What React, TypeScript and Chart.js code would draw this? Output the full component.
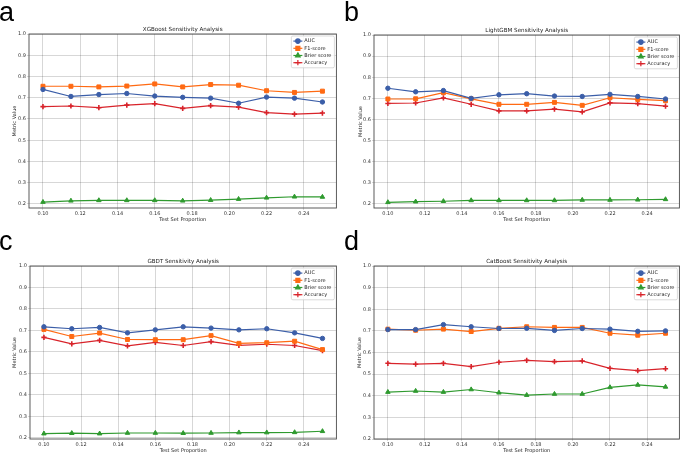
import React, { useEffect, useRef } from "react";
import { Chart, registerables } from "chart.js";
import { drawPoint } from "chart.js/helpers";
Chart.register(...registerables);

// ---------- data ----------
const testSizes = [0.1, 0.115, 0.13, 0.145, 0.16, 0.175, 0.19, 0.205, 0.22, 0.235, 0.25];
const xTickValues = [0.1, 0.12, 0.14, 0.16, 0.18, 0.2, 0.22, 0.24];
const yTickValues = [0.2, 0.3, 0.4, 0.5, 0.6, 0.7, 0.8, 0.9, 1.0];
const seriesNames = ["AUC", "F1-score", "Brier score", "Accuracy"];
const panelLetters = ["a", "b", "c", "d"];
const panelTitles = [
  "XGBoost Sensitivity Analysis",
  "LightGBM Sensitivity Analysis",
  "GBDT Sensitivity Analysis",
  "CatBoost Sensitivity Analysis",
];
const xAxisTitle = "Test Set Proportion";
const yAxisTitle = "Metric Value";

const xgbAuc = [0.739, 0.706, 0.715, 0.72, 0.708, 0.702, 0.698, 0.674, 0.703, 0.698, 0.68];
const xgbF1 = [0.754, 0.754, 0.751, 0.755, 0.765, 0.751, 0.762, 0.759, 0.733, 0.725, 0.731];
const xgbBrier = [0.209, 0.215, 0.217, 0.217, 0.217, 0.215, 0.218, 0.223, 0.229, 0.234, 0.233];
const xgbAcc = [0.658, 0.661, 0.653, 0.665, 0.672, 0.65, 0.663, 0.656, 0.63, 0.623, 0.628];

const lgbAuc = [0.748, 0.731, 0.737, 0.7, 0.717, 0.722, 0.711, 0.709, 0.719, 0.709, 0.697];
const lgbF1 = [0.697, 0.698, 0.727, 0.698, 0.672, 0.672, 0.681, 0.667, 0.703, 0.695, 0.689];
const lgbBrier = [0.208, 0.211, 0.213, 0.217, 0.217, 0.217, 0.217, 0.219, 0.219, 0.22, 0.222];
const lgbAcc = [0.676, 0.678, 0.702, 0.672, 0.641, 0.641, 0.649, 0.636, 0.679, 0.675, 0.663];

const gbdtAuc = [0.717, 0.708, 0.714, 0.689, 0.703, 0.717, 0.711, 0.703, 0.708, 0.689, 0.663];
const gbdtF1 = [0.705, 0.672, 0.688, 0.658, 0.657, 0.657, 0.676, 0.64, 0.643, 0.65, 0.611];
const gbdtBrier = [0.22, 0.222, 0.22, 0.223, 0.223, 0.222, 0.223, 0.225, 0.225, 0.226, 0.231];
const gbdtAcc = [0.668, 0.638, 0.654, 0.628, 0.645, 0.63, 0.648, 0.631, 0.636, 0.63, 0.606];

const catAuc = [0.706, 0.706, 0.729, 0.719, 0.711, 0.712, 0.702, 0.711, 0.708, 0.698, 0.7];
const catF1 = [0.708, 0.703, 0.708, 0.697, 0.712, 0.719, 0.716, 0.716, 0.689, 0.68, 0.689];
const catBrier = [0.417, 0.422, 0.417, 0.429, 0.414, 0.403, 0.408, 0.408, 0.439, 0.45, 0.441];
const catAcc = [0.55, 0.546, 0.55, 0.535, 0.555, 0.564, 0.558, 0.561, 0.527, 0.516, 0.525];

const panelSeries = [
  [xgbAuc, xgbF1, xgbBrier, xgbAcc],
  [lgbAuc, lgbF1, lgbBrier, lgbAcc],
  [gbdtAuc, gbdtF1, gbdtBrier, gbdtAcc],
  [catAuc, catF1, catBrier, catAcc],
];
const panelYMin = [0.181, 0.181, 0.195, 0.2];
const xMin = 0.0925;
const xMax = 0.2575;
const yMax = 1.0;

// ---------- styles ----------
const seriesColors = ["#3b5ea8", "#ff6a13", "#2f9a2f", "#d8232a"];
const seriesStyles = ["circle", "rect", "triangle", "cross"];
const seriesRadius = [2.2, 2.8, 2.6, 2.6];
const seriesPointBorder = [1, 1, 1, 1.6];
const FONT = '"DejaVu Sans", sans-serif';

const layouts = [
  { left: 0, top: 0, w: 342, h: 227, yw: 29, padTop: 34, padRight: 2, xh: 19, xPadB: 4, yPadT: 12 },
  { left: 342, top: 0, w: 343, h: 227, yw: 32, padTop: 35, padRight: 2, xh: 19, xPadB: 4, yPadT: 15.5 },
  { left: 0, top: 227, w: 342, h: 227, yw: 30, padTop: 39, padRight: 2, xh: 15, xPadB: 0, yPadT: 12 },
  { left: 342, top: 227, w: 343, h: 227, yw: 32, padTop: 39, padRight: 2, xh: 15, xPadB: 0, yPadT: 14.5 },
];
const letterPos = [
  { left: -1, top: -1 },
  { left: 344, top: -1 },
  { left: -1, top: 228 },
  { left: 344, top: 228 },
];

const framePlugin = {
  id: "frame",
  afterDraw(chart: any) {
    const { ctx, chartArea } = chart;
    ctx.save();
    ctx.strokeStyle = "#4a4a4a";
    ctx.lineWidth = 0.9;
    ctx.strokeRect(chartArea.left, chartArea.top, chartArea.right - chartArea.left, chartArea.bottom - chartArea.top);
    ctx.restore();
  },
};

const titlePlugin = {
  id: "panelTitle",
  afterDraw(chart: any, _args: any, opts: any) {
    const { ctx, chartArea } = chart;
    ctx.save();
    ctx.font = `5.6px ${FONT}`;
    ctx.fillStyle = "#222";
    ctx.textAlign = "center";
    ctx.textBaseline = "middle";
    ctx.fillText(opts.text, (chartArea.left + chartArea.right) / 2, chartArea.top - 4);
    ctx.restore();
  },
};

const legendPlugin = {
  id: "boxLegend",
  afterDraw(chart: any) {
    const { ctx, chartArea } = chart;
    const ds = chart.data.datasets;
    ctx.save();
    ctx.font = `5px ${FONT}`;
    const textW = Math.max(...ds.map((d: any) => ctx.measureText(d.label).width));
    const rowH = 7.2;
    const w = 13 + textW + 3;
    const h = ds.length * rowH + 3;
    const x = chartArea.right - 2 - w;
    const y = chartArea.top + 2;
    ctx.fillStyle = "rgba(255,255,255,0.85)";
    ctx.strokeStyle = "#cccccc";
    ctx.lineWidth = 0.7;
    ctx.beginPath();
    (ctx as any).roundRect(x, y, w, h, 1.5);
    ctx.fill();
    ctx.stroke();
    ds.forEach((d: any, i: number) => {
      const cy = y + 1.5 + rowH * (i + 0.5);
      ctx.strokeStyle = d.borderColor;
      ctx.lineWidth = 1.2;
      ctx.beginPath();
      ctx.moveTo(x + 2, cy);
      ctx.lineTo(x + 11, cy);
      ctx.stroke();
      ctx.fillStyle = d.pointBackgroundColor;
      ctx.strokeStyle = d.pointBorderColor;
      drawPoint(ctx, { pointStyle: d.pointStyle, radius: d.pointRadius, borderWidth: d.pointBorderWidth, rotation: 0 } as any, x + 6.5, cy);
      ctx.fillStyle = "#222";
      ctx.textAlign = "left";
      ctx.textBaseline = "middle";
      ctx.fillText(d.label, x + 13, cy);
    });
    ctx.restore();
  },
};

function Panel({ index }: { index: number }) {
  const ref = useRef<HTMLCanvasElement | null>(null);
  const L = layouts[index];
  useEffect(() => {
    if (!ref.current) return;
    const series = panelSeries[index];
    const chart = new Chart(ref.current, {
      type: "line",
      data: {
        datasets: seriesNames.map((name, si) => ({
          label: name,
          data: testSizes.map((x, i) => ({ x, y: series[si][i] })),
          borderColor: seriesColors[si],
          backgroundColor: seriesColors[si],
          pointBackgroundColor: seriesColors[si],
          pointBorderColor: seriesColors[si],
          pointStyle: seriesStyles[si],
          pointRadius: seriesRadius[si],
          pointBorderWidth: seriesPointBorder[si],
          borderWidth: 1.2,
          tension: 0,
          fill: false,
        })),
      },
      options: {
        animation: false,
        responsive: false,
        maintainAspectRatio: false,
        events: [],
        layout: { padding: { top: L.padTop, right: L.padRight, left: 0, bottom: 0 } },
        plugins: {
          legend: { display: false },
          title: { display: false },
          tooltip: { enabled: false },
          panelTitle: { text: panelTitles[index] },
        } as any,
        scales: {
          x: {
            type: "linear",
            min: xMin,
            max: xMax,
            afterBuildTicks: (s: any) => {
              s.ticks = xTickValues.map((v) => ({ value: v }));
            },
            afterFit: (s: any) => {
              s.height = L.xh;
            },
            ticks: {
              callback: (v: any) => Number(v).toFixed(2),
              font: { family: FONT, size: 5 },
              color: "#333",
              padding: 0.5,
              maxRotation: 0,
              autoSkip: false,
            },
            grid: { color: "rgba(0,0,0,0.2)", lineWidth: 0.8, tickLength: 2 },
            border: { display: false },
            title: {
              display: true,
              text: xAxisTitle,
              font: { family: FONT, size: 5 },
              color: "#222",
              padding: { top: 0, bottom: L.xPadB },
            },
          },
          y: {
            type: "linear",
            min: panelYMin[index],
            max: yMax,
            afterBuildTicks: (s: any) => {
              s.ticks = yTickValues.map((v) => ({ value: v }));
            },
            afterFit: (s: any) => {
              s.width = L.yw;
            },
            ticks: {
              callback: (v: any) => Number(v).toFixed(1),
              font: { family: FONT, size: 5 },
              color: "#333",
              padding: 1,
              autoSkip: false,
            },
            grid: { color: "rgba(0,0,0,0.2)", lineWidth: 0.8, tickLength: 2 },
            border: { display: false },
            title: {
              display: true,
              text: yAxisTitle,
              font: { family: FONT, size: 5 },
              color: "#222",
              padding: { top: L.yPadT, bottom: 0 },
            },
          },
        },
      },
      plugins: [framePlugin, titlePlugin, legendPlugin],
    });
    return () => chart.destroy();
  }, [index]);
  return (
    <canvas
      ref={ref}
      width={L.w}
      height={L.h}
      style={{ position: "absolute", left: L.left, top: L.top, width: L.w, height: L.h }}
    />
  );
}

export default function App() {
  return (
    <div style={{ position: "absolute", left: 0, top: 0, width: 685, height: 454, background: "#fff", overflow: "hidden" }}>
      {[0, 1, 2, 3].map((i) => (
        <Panel key={i} index={i} />
      ))}
      {panelLetters.map((l, i) => (
        <div
          key={l}
          style={{
            position: "absolute",
            left: letterPos[i].left,
            top: letterPos[i].top,
            fontFamily: '"Liberation Sans", Arial, sans-serif',
            fontSize: 27,
            lineHeight: "27px",
            color: "#000",
          }}
        >
          {l}
        </div>
      ))}
    </div>
  );
}
